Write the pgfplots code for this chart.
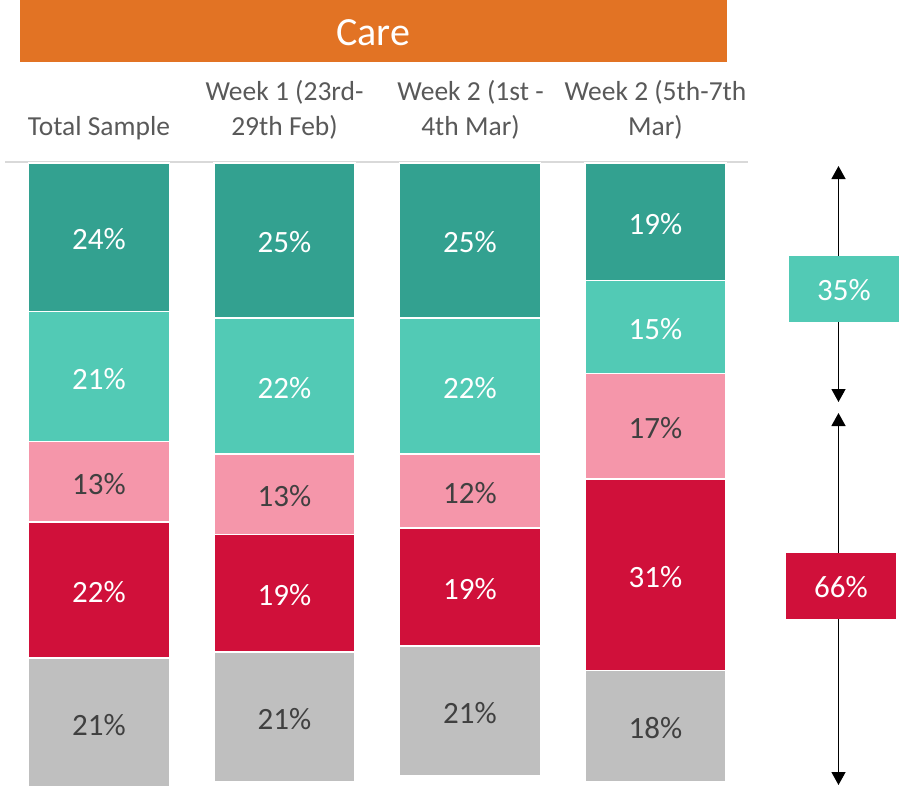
\documentclass[border=0pt]{standalone}
\usepackage{fontspec}
\setmainfont{Carlito}
\usepackage{pgfplots}
\usepackage{pgfplotstable}
\pgfplotsset{compat=1.18}
\usetikzlibrary{arrows.meta}
\definecolor{dteal}{HTML}{33A190}
\definecolor{lteal}{HTML}{52CAB5}
\definecolor{cpink}{HTML}{F596AA}
\definecolor{cred}{HTML}{D0103A}
\definecolor{cgray}{HTML}{BFBFBF}
\definecolor{corange}{HTML}{E27324}
\definecolor{labdark}{HTML}{404040}
\definecolor{headgray}{HTML}{595959}
\definecolor{linegray}{HTML}{D9D9D9}
% segment labels: x, segment midpoint, text
\pgfplotstableread{
x y lab
0 12   24\%
1 12.5 25\%
2 12.5 25\%
3 9.5  19\%
0 34.5 21\%
1 36   22\%
2 36   22\%
3 26.5 15\%
0 69   22\%
1 69.5 19\%
2 68.5 19\%
3 66.5 31\%
}\whitelabels
\pgfplotstableread{
x y lab
0 51.5 13\%
1 53.5 13\%
2 53   12\%
3 42.5 17\%
0 90.5 21\%
1 89.5 21\%
2 88.5 21\%
3 91   18\%
}\darklabels
\begin{document}
\begin{tikzpicture}
\useasboundingbox (0pt,0pt) rectangle (899pt,-785pt);
% title bar
\fill[corange] (20pt,0pt) rectangle (727pt,-62pt);
\node[text=white,font=\fontsize{40}{48}\selectfont,anchor=base] at (373pt,-45pt) {Care};
% headers
\begin{scope}[every node/.style={text=headgray,font=\fontsize{27.5}{33}\selectfont,anchor=base}]
\node at (99pt,-135pt) {Total Sample};
\node at (284.5pt,-100pt) {Week 1 (23rd-};
\node at (284.5pt,-135pt) {29th Feb)};
\node at (470.5pt,-100pt) {Week 2 (1st -};
\node at (470.5pt,-135pt) {4th Mar)};
\node at (655.5pt,-100pt) {Week 2 (5th-7th};
\node at (655.5pt,-135pt) {Mar)};
\end{scope}
\draw[linegray,line width=1.5pt] (5pt,-162pt) -- (748pt,-162pt);
\pgfplotsset{myaxis/.style={
  at={(6.25pt,-163pt)}, anchor=north west,
  scale only axis, width=742pt, height=619pt,
  xmin=-0.5, xmax=3.5, ymin=0, ymax=100, y dir=reverse,
  hide axis, clip=false}}
\begin{axis}[myaxis,
  ybar stacked, bar width=141pt,
  every axis plot/.append style={draw=white,line width=1.6pt},
]
\addplot[fill=dteal] coordinates {(0,24) (1,25) (2,25) (3,19)};
\addplot[fill=lteal] coordinates {(0,21) (1,22) (2,22) (3,15)};
\addplot[fill=cpink] coordinates {(0,13) (1,13) (2,12) (3,17)};
\addplot[fill=cred] coordinates {(0,22) (1,19) (2,19) (3,31)};
\addplot[fill=cgray] coordinates {(0,21) (1,21) (2,21) (3,18)};
\end{axis}
\begin{axis}[myaxis,
  nodes near coords, point meta=explicit symbolic,
  every node near coord/.append style={font=\fontsize{31}{37}\selectfont,anchor=center,yshift=-2pt},
]
\addplot[draw=none,mark=none,nodes near coords style={text=white}] table[x=x,y=y,meta=lab] {\whitelabels};
\addplot[draw=none,mark=none,nodes near coords style={text=labdark}] table[x=x,y=y,meta=lab] {\darklabels};
\end{axis}
% arrows and boxes
\draw[line width=1.3pt,{Triangle[width=14pt,length=13pt]}-{Triangle[width=14pt,length=13pt]}] (838.5pt,-166pt) -- (838.5pt,-402pt);
\draw[line width=1.3pt,{Triangle[width=14pt,length=13pt]}-{Triangle[width=14pt,length=13pt]}] (838.5pt,-413pt) -- (838.5pt,-785pt);
\fill[lteal] (789pt,-256pt) rectangle (899pt,-322pt);
\node[text=white,font=\fontsize{31}{37}\selectfont] at (844pt,-290pt) {35\%};
\fill[cred] (786pt,-553pt) rectangle (896pt,-619pt);
\node[text=white,font=\fontsize{31}{37}\selectfont] at (841pt,-587pt) {66\%};
\end{tikzpicture}
\end{document}
